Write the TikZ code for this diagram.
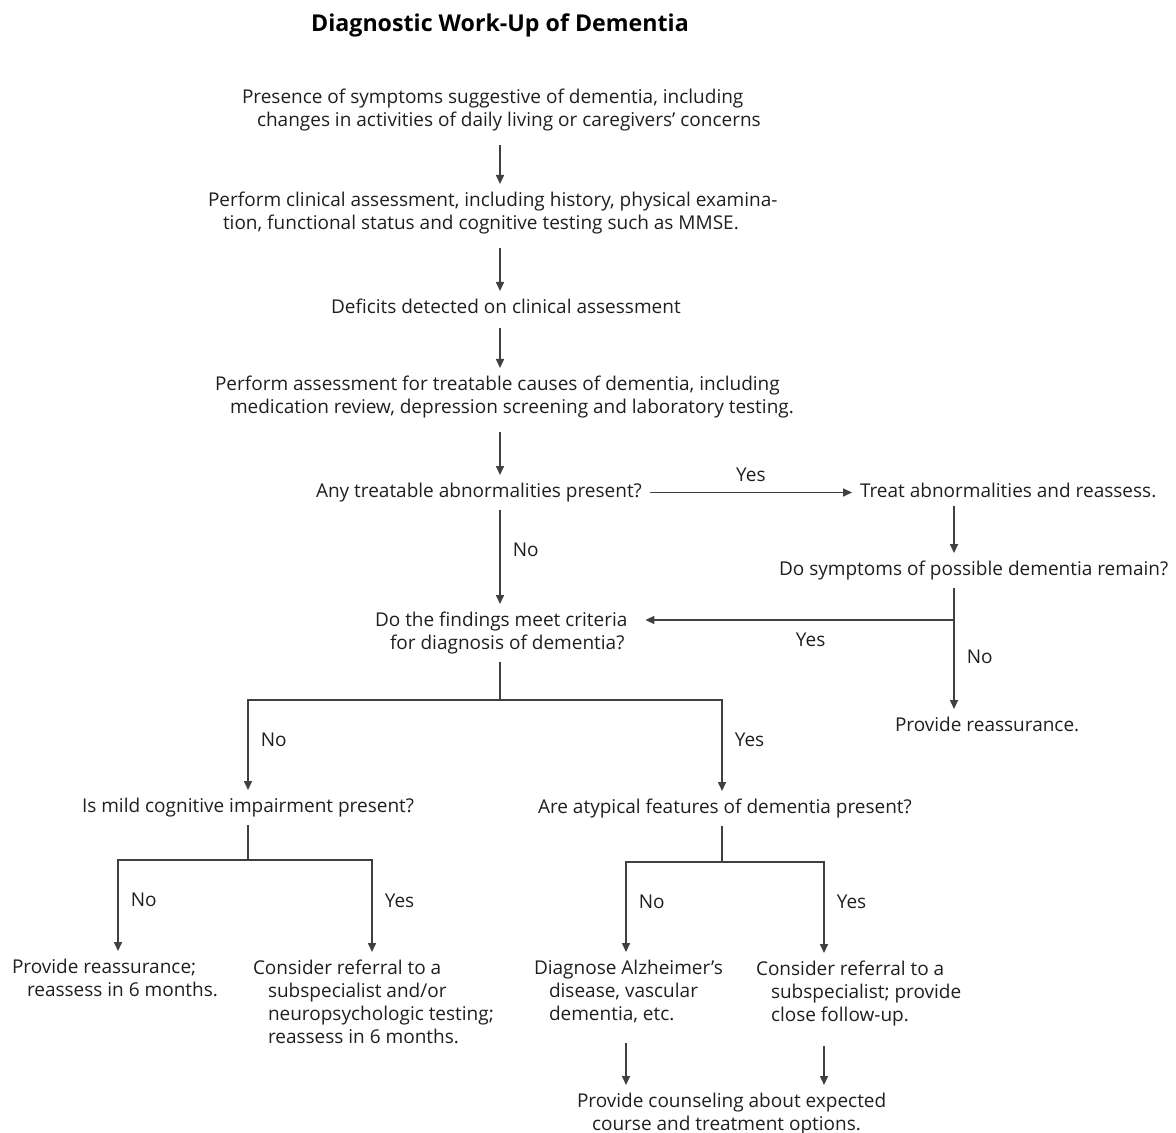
\documentclass[tikz,border=0pt]{standalone}
\usepackage{fontspec}
\setmainfont{Open Sans}
\usetikzlibrary{arrows.meta}
\newcommand{\ind}{\hspace*{7.5pt}}

\begin{document}
\begin{tikzpicture}[x=0.5pt,y=-0.5pt,
    txt/.style={align=left, inner sep=0pt, outer sep=4pt, anchor=north west,
        font=\fontsize{9.5}{11.5}\selectfont, text=black!88},
    lbl/.style={inner sep=0pt, font=\fontsize{9.5}{11.5}\selectfont, text=black!88},
    arr/.style={-{Triangle[length=4.5pt,width=4pt]}, draw=black!75, line width=0.8pt},
    ln/.style={draw=black!75, line width=0.8pt}]

    \useasboundingbox (0,0) rectangle (1176,1133);

    %columns
    \coordinate (spine) at (500,0);
    \coordinate (rcol) at (954,0);
    \coordinate (cL) at (118,0);
    \coordinate (cLR) at (372,0);
    \coordinate (cM) at (626,0);
    \coordinate (cR) at (824,0);

    %title
    \node[font=\fontsize{11.6}{14}\selectfont\bfseries] (title) at (500,25) {Diagnostic Work-Up of Dementia};

    %main line
    \node[txt] (pres) at (234,81) {Presence of symptoms suggestive of dementia, including\\\ind changes in activities of daily living or caregivers’ concerns};
    \node[txt] (clin) at (200,184) {Perform clinical assessment, including history, physical examina-\\\ind tion, functional status and cognitive testing such as MMSE.};
    \node[txt] (defic) at (323,291) {Deficits detected on clinical assessment};
    \node[txt] (treat) at (207,368) {Perform assessment for treatable causes of dementia, including\\\ind medication review, depression screening and laboratory testing.};
    \node[txt] (any) at (308,475) {Any treatable abnormalities present?};
    \node[txt] (crit) at (367,604) {Do the findings meet criteria\\\ind for diagnosis of dementia?};

    %right side
    \node[txt] (tabn) at (852,475) {Treat abnormalities and reassess.};
    \node[txt] (remain) at (771,553) {Do symptoms of possible dementia remain?};
    \node[txt] (reass) at (887,709) {Provide reassurance.};

    %second level
    \node[txt] (mci) at (74,790) {Is mild cognitive impairment present?};
    \node[txt] (atyp) at (530,791) {Are atypical features of dementia present?};

    %leaves
    \node[txt] (prov) at (4,951) {Provide reassurance;\\\ind reassess in 6 months.};
    \node[txt] (cons) at (245,952) {Consider referral to a\\\ind subspecialist and/or\\\ind neuropsychologic testing;\\\ind reassess in 6 months.};
    \node[txt] (diag) at (526,952) {Diagnose Alzheimer’s\\\ind disease, vascular\\\ind dementia, etc.};
    \node[txt] (consb) at (748,953) {Consider referral to a\\\ind subspecialist; provide\\\ind close follow-up.};
    \node[txt] (couns) at (569,1085) {Provide counseling about expected\\\ind course and treatment options.};

    %arrows
    \foreach \a/\b in {pres/clin,clin/defic,defic/treat,treat/any}{
        \draw[arr, shorten <=3pt] (\a.south -| spine) -- (\b.north -| spine);
    }
    \draw[arr] (any.south -| spine) -- (crit.north -| spine) node[lbl, pos=0.42, right=6pt] {No};
    \draw[arr] (any.east) -- (any.east -| tabn.west) node[lbl, midway, above=5pt] {Yes};
    \draw[arr] (tabn.south -| rcol) -- (remain.north -| rcol);
    \draw[arr] (remain.south -| rcol) -- (reass.north -| rcol) node[lbl, pos=0.57, right=6pt] {No};
    \coordinate (yj) at (954,620);
    \draw[arr, shorten >=5pt] (yj) -- (yj -| crit.east) node[lbl, pos=0.45, below=6pt] {Yes};

    \coordinate (cj) at (500,700);
    \draw[ln] (crit.south -| spine) -- (cj);
    \draw[arr] (cj) -| (mci.north) node[lbl, pos=0.72, right=6pt] {No};
    \draw[arr] (cj) -| (atyp.north -| 722,0) node[lbl, pos=0.72, right=6pt] {Yes};

    \coordinate (mj) at (248,860);
    \draw[ln] (mci.south -| mj) -- (mj);
    \draw[arr] (mj) -| (prov.north -| cL) node[lbl, pos=0.72, right=6pt] {No};
    \draw[arr] (mj) -| (cons.north -| cLR) node[lbl, pos=0.72, right=6pt] {Yes};

    \coordinate (aj) at (722,862);
    \draw[ln] (atyp.south -| aj) -- (aj);
    \draw[arr] (aj) -| (diag.north -| cM) node[lbl, pos=0.72, right=6pt] {No};
    \draw[arr] (aj) -| (consb.north -| cR) node[lbl, pos=0.72, right=6pt] {Yes};

    \draw[arr, shorten <=6pt] (diag.south -| cM) -- (couns.north -| cM);
    \draw[arr, shorten <=6pt] (consb.south -| cR) -- (couns.north -| cR);

\end{tikzpicture}
\end{document}
